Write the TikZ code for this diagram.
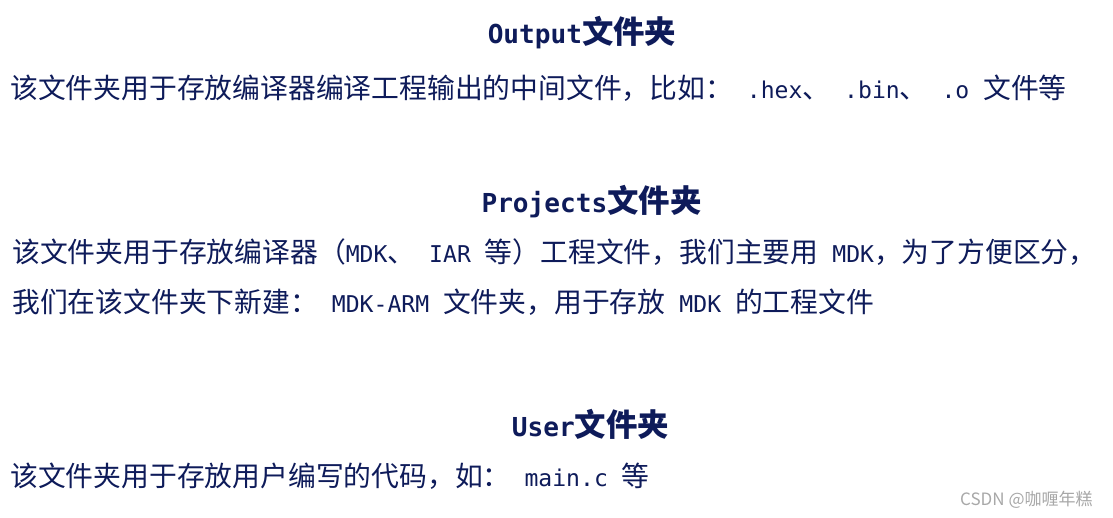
\documentclass[tikz,border=0pt]{standalone}
\usepackage{fontspec}
\setmainfont{Noto Sans CJK SC}
\newfontfamily\monofam{DejaVu Sans Mono}
\definecolor{ink}{HTML}{0E1B5A}
\definecolor{wmgray}{HTML}{A8A8A8}
\newcommand\mt[1]{{\monofam\fontsize{23.1}{30}\selectfont #1}}
\newcommand\mtb[1]{{\monofam\fontsize{26.1}{34}\selectfont\bfseries #1}}
\tikzset{
  bodytext/.style={anchor=base west, inner sep=0pt, text=ink, font=\fontsize{27.8}{30}\selectfont},
  titletext/.style={anchor=base, inner sep=0pt, text=ink, font=\fontsize{31.4}{34}\selectfont\bfseries},
  wmtext/.style={anchor=base west, inner sep=0pt, text=wmgray, font=\fontsize{17}{20}\selectfont}
}
\begin{document}
\begin{tikzpicture}[x=1pt,y=-1pt]
\useasboundingbox (0,0) rectangle (1113,518);
\fill[white] (0,0) rectangle (1113,518);
\node[titletext] (t1) at (582,44) {\mtb{Output}文件夹};
\node[bodytext] (l1) at (10,98.6) {该文件夹用于存放编译器编译工程输出的中间文件，比如：\mt{~.hex}、\mt{~.bin}、\mt{~.o~}文件等};
\node[titletext] (t2) at (591.5,213) {\mtb{Projects}文件夹};
\node[bodytext] (l2) at (12,262.6) {该文件夹用于存放编译器（\mt{MDK}、\mt{~IAR~}等）工程文件，我们主要用\mt{~MDK}，为了方便区分，};
\node[bodytext] (l3) at (12,312.6) {我们在该文件夹下新建：\mt{~MDK-ARM~}文件夹，用于存放\mt{~MDK~}的工程文件};
\node[titletext] (t3) at (590.5,436) {\mtb{User}文件夹};
\node[bodytext] (l4) at (10,486.6) {该文件夹用于存放用户编写的代码，如：\mt{~main.c~}等};
\node[wmtext] (wm) at (960,505) {CSDN @咖喱年糕};
\end{tikzpicture}
\end{document}
